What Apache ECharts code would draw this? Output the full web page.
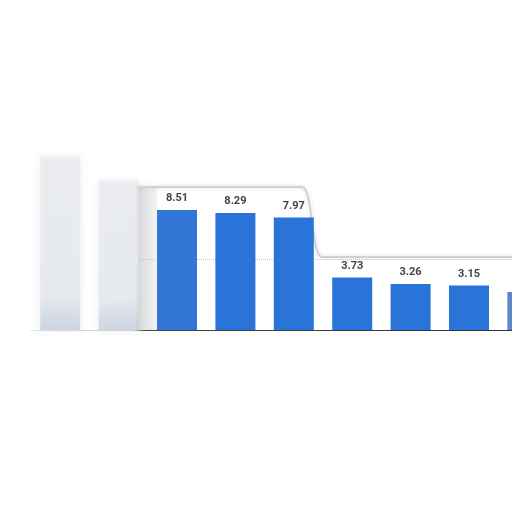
<!DOCTYPE html>
<html>
<head>
<meta charset="utf-8">
<script src="https://cdn.jsdelivr.net/npm/echarts@6/dist/echarts.min.js"></script>
<style>html,body{margin:0;padding:0;background:#fff;overflow:hidden;width:512px;height:512px;}#c{width:557px;height:512px;}</style>
</head>
<body>
<div id="c"></div>
<script>
// Data (first two bars are faded/blurred in the reference, last one cut off)
const categories = ['C1', 'C2', 'C3', 'C4', 'C5', 'C6', 'C7', 'C8', 'C9'];
const values = [12.3, 10.6, 8.51, 8.29, 7.97, 3.73, 3.26, 3.15, 2.7];
const faded = [true, true, false, false, false, false, false, false, false];
const labelled = [false, false, true, true, true, true, true, true, false];
const yTicks = [0, 5, 10, 15];

const chart = echarts.init(document.getElementById('c'));

const fadedFill = { type: 'linear', x: 0, y: 0, x2: 0, y2: 1, colorStops: [
  { offset: 0, color: 'rgba(232,234,238,0.7)' },
  { offset: 0.8, color: 'rgba(228,231,236,0.75)' },
  { offset: 1, color: 'rgba(195,205,220,0.8)' }
] };

const data = values.map((v, i) => ({
  value: v,
  itemStyle: faded[i] ? { color: fadedFill, shadowBlur: 8, shadowColor: 'rgba(215,220,228,0.7)' }
    : (i === 2 ? { color: '#3376d6' } : (i === values.length - 1 ? { color: '#5a86c8' } : { color: '#2a73d9' })),
  label: { show: labelled[i] }
}));

const edge = { stroke: '#d2d2d2', lineWidth: 2, shadowBlur: 4, shadowColor: 'rgba(0,0,0,0.15)' };

chart.setOption({
  animation: false,
  backgroundColor: '#ffffff',
  grid: { left: 31, right: 0.4, top: 118.5, bottom: 182 },
  graphic: [
    {
      type: 'rect', z: 1, silent: true,
      shape: { x: 0, y: 255, width: 137, height: 8 },
      style: { fill: '#ffffff' }
    },
    {
      type: 'rect', z: 0, silent: true,
      shape: { x: 137, y: 188, width: 20, height: 142 },
      style: { fill: { type: 'linear', x: 0, y: 0, x2: 1, y2: 0, colorStops: [
        { offset: 0, color: '#d8d8d8' }, { offset: 1, color: '#f3f3f3' }] } }
    },
    {
      type: 'polyline', z: 0, silent: true,
      shape: { points: [[137, 330], [137, 187], [302, 187]] },
      style: Object.assign({ fill: null }, edge)
    },
    {
      type: 'bezierCurve', z: 0, silent: true,
      shape: { x1: 302, y1: 187, cpx1: 313, cpy1: 187, cpx2: 311, cpy2: 257, x2: 322, y2: 257 },
      style: Object.assign({ fill: null }, edge)
    },
    {
      type: 'line', z: 0, silent: true,
      shape: { x1: 322, y1: 257, x2: 557, y2: 257 },
      style: Object.assign({}, edge)
    }
  ],
  xAxis: {
    type: 'category',
    data: categories,
    axisTick: { show: false },
    axisLabel: { show: false },
    axisLine: { lineStyle: { width: 1, color: { type: 'linear', x: 0, y: 0, x2: 512, y2: 0, global: true, colorStops: [
      { offset: 0, color: '#e2e2e2' }, { offset: 0.26, color: '#d0d0d0' },
      { offset: 0.28, color: '#444' }, { offset: 1, color: '#333' }] } } }
  },
  yAxis: {
    type: 'value',
    min: yTicks[0], max: yTicks[yTicks.length - 1], interval: 5,
    axisLabel: { show: false },
    axisLine: { show: false },
    axisTick: { show: false },
    splitLine: { show: true, lineStyle: { type: 'dotted', width: 1,
      color: ['rgba(0,0,0,0)', '#c4c4c4', 'rgba(0,0,0,0)', 'rgba(0,0,0,0)'] } }
  },
  series: [{
    type: 'bar',
    data: data,
    barWidth: 40,
    z: 2,
    label: {
      position: 'top',
      distance: 6,
      fontFamily: 'Roboto',
      fontWeight: 'bold',
      fontSize: 11,
      color: '#444'
    }
  }]
});
</script>
</body>
</html>
